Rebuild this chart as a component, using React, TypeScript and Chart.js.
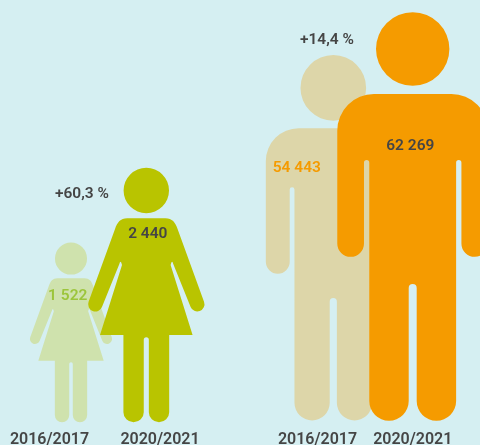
import React, { useEffect, useRef } from "react";
import { Chart, registerables } from "chart.js";

Chart.register(...registerables);

// Data
const categories = ["2016/2017", "2020/2021", "2016/2017", "2020/2021"];
const students = ["1 522", "2 440", "54 443", "62 269"];
const changes = ["+60,3 %", "+14,4 %"];
const figureKinds = ["woman", "woman", "man", "man"];
const figureHeights = [179.6, 254.3, 364.7, 407.7];

// Layout (x and y scales are in canvas units)
const LAYOUT = {
  figureX: [71, 146.3, 333.3, 412.7],
  figureLift: [0.7, 0.7, 2.6, 2.3],
  tickX: [49.5, 160, 317.5, 412.8],
  studentPos: [[67.7, 296], [147.8, 234], [296.8, 167.7], [410.3, 146]],
  changePos: [[82, 193.7], [327, 40]],
};
const BG = "#D5EFF2";
const INK = "#454545";
const figureColors = ["#CFE2AD", "#B9C400", "#DDD6A9", "#F59B00"];
const studentColors = ["#9CC53B", INK, "#F59B00", INK];
const FONT = "Roboto";

function manPath(): Path2D {
  const p = new Path2D();
  const top = 0.1987, w = 0.185, r = 0.09, armBot = 0.598, armIn = 0.1195, torso = 0.1065;
  const gapTop = 0.3606, crotch = 0.6647, legGap = 0.0098;
  const ar = (w - armIn) / 2, gr = (armIn - torso) / 2, lr = (torso - legGap) / 2;
  const PI = Math.PI;
  p.moveTo(-w + r, top);
  p.lineTo(w - r, top);
  p.arc(w - r, top + r, r, -PI / 2, 0);
  p.lineTo(w, armBot - ar);
  p.arc(w - ar, armBot - ar, ar, 0, PI);
  p.lineTo(armIn, gapTop + gr);
  p.arc(torso + gr, gapTop + gr, gr, 0, PI, true);
  p.lineTo(torso, 1 - lr);
  p.arc(legGap + lr, 1 - lr, lr, 0, PI);
  p.lineTo(legGap, crotch + legGap);
  p.arc(0, crotch + legGap, legGap, 0, PI, true);
  p.lineTo(-legGap, 1 - lr);
  p.arc(-legGap - lr, 1 - lr, lr, 0, PI);
  p.lineTo(-torso, gapTop + gr);
  p.arc(-torso - gr, gapTop + gr, gr, 0, PI, true);
  p.lineTo(-armIn, armBot - ar);
  p.arc(-w + ar, armBot - ar, ar, 0, PI);
  p.lineTo(-w, top + r);
  p.arc(-w + r, top + r, r, PI, 1.5 * PI);
  p.closePath();
  p.moveTo(0.09, 0.0883);
  p.arc(0, 0.0883, 0.09, 0, 2 * PI);
  return p;
}

function womanPath(): Path2D {
  const p = new Path2D();
  const PI = Math.PI, deg = PI / 180;
  const top = 0.198, hem = 0.657, legOut = 0.09, legIn = 0.01, lr = 0.04, hr = 0.0282;
  const hx = 0.2005, hv = 0.536;
  p.moveTo(-0.075, top);
  p.lineTo(0.075, top);
  p.bezierCurveTo(0.102, top, 0.114, 0.214, 0.123, 0.24);
  p.lineTo(0.227, 0.526);
  p.arc(hx, hv, hr, -20 * deg, 158.3 * deg);
  p.lineTo(0.106, 0.3775);
  p.quadraticCurveTo(0.101, 0.358, 0.0956, 0.3814);
  p.lineTo(0.182, hem);
  p.lineTo(legOut, hem);
  p.lineTo(legOut, 1 - lr);
  p.arc(legIn + lr, 1 - lr, lr, 0, PI);
  p.lineTo(legIn, 0.6656 + legIn);
  p.arc(0, 0.6656 + legIn, legIn, 0, PI, true);
  p.lineTo(-legIn, 1 - lr);
  p.arc(-legIn - lr, 1 - lr, lr, 0, PI);
  p.lineTo(-legOut, hem);
  p.lineTo(-0.182, hem);
  p.lineTo(-0.0956, 0.3814);
  p.quadraticCurveTo(-0.101, 0.358, -0.106, 0.3775);
  p.lineTo(-0.1743, 0.5464);
  p.arc(-hx, hv, hr, 21.7 * deg, 200 * deg);
  p.lineTo(-0.123, 0.24);
  p.bezierCurveTo(-0.114, 0.214, -0.102, top, -0.075, top);
  p.closePath();
  p.moveTo(0.0893, 0.0883);
  p.arc(0, 0.0883, 0.0893, 0, 2 * PI);
  return p;
}

const figurePlugin = {
  id: "figures",
  beforeDatasetDraw(chart: any, args: any) {
    const ctx: CanvasRenderingContext2D = chart.ctx;
    const shapes: Record<string, Path2D> = { man: manPath(), woman: womanPath() };
    args.meta.data.forEach((el: any, i: number) => {
      const h = el.base - el.y;
      ctx.save();
      ctx.translate(el.x, el.y);
      ctx.scale(h, h);
      ctx.fillStyle = el.options.backgroundColor;
      ctx.fill(shapes[figureKinds[i]]);
      ctx.restore();
    });
    return false; // the silhouette replaces the rectangle
  },
  afterDatasetsDraw(chart: any) {
    const ctx: CanvasRenderingContext2D = chart.ctx;
    ctx.save();
    ctx.textAlign = "center";
    ctx.textBaseline = "middle";
    ctx.font = `600 15.5px ${FONT}`;
    students.forEach((s, i) => {
      ctx.fillStyle = studentColors[i];
      ctx.fillText(s, LAYOUT.studentPos[i][0], LAYOUT.studentPos[i][1]);
    });
    ctx.fillStyle = INK;
    changes.forEach((s, i) => {
      ctx.fillText(s, LAYOUT.changePos[i][0], LAYOUT.changePos[i][1]);
    });
    ctx.restore();
  },
};

export default function App() {
  const ref = useRef<HTMLCanvasElement>(null);
  useEffect(() => {
    document.body.style.margin = "0";
    document.body.style.background = BG;
    const chart = new Chart(ref.current!, {
      type: "bar",
      data: {
        datasets: [
          {
            label: "Students",
            data: figureHeights.map((h, i) => ({
              x: LAYOUT.figureX[i],
              y: [LAYOUT.figureLift[i], LAYOUT.figureLift[i] + h],
            })) as any,
            backgroundColor: figureColors,
          },
        ],
      },
      options: {
        responsive: false,
        animation: false,
        layout: { padding: 0 },
        plugins: { legend: { display: false }, tooltip: { enabled: false }, title: { display: false } },
        scales: {
          x: {
            type: "linear",
            min: 0,
            max: 480,
            offset: false,
            grid: { display: false, drawTicks: false },
            border: { display: false },
            afterBuildTicks: (scale: any) => {
              scale.ticks = LAYOUT.tickX.map((value) => ({ value }));
            },
            afterFit: (scale: any) => {
              scale.height = 22;
            },
            ticks: {
              autoSkip: false,
              maxRotation: 0,
              padding: 7,
              color: INK,
              font: { family: FONT, size: 16, weight: "600" },
              callback: (_v: any, i: number) => categories[i],
            },
          },
          y: { type: "linear", display: false, min: 0, max: 423 },
        },
      },
      plugins: [figurePlugin],
    } as any);
    return () => chart.destroy();
  }, []);
  return (
    <div style={{ position: "absolute", left: 0, top: 0, width: 480, height: 445, overflow: "hidden", background: BG }}>
      <canvas ref={ref} width={480} height={445} style={{ display: "block" }} />
    </div>
  );
}
